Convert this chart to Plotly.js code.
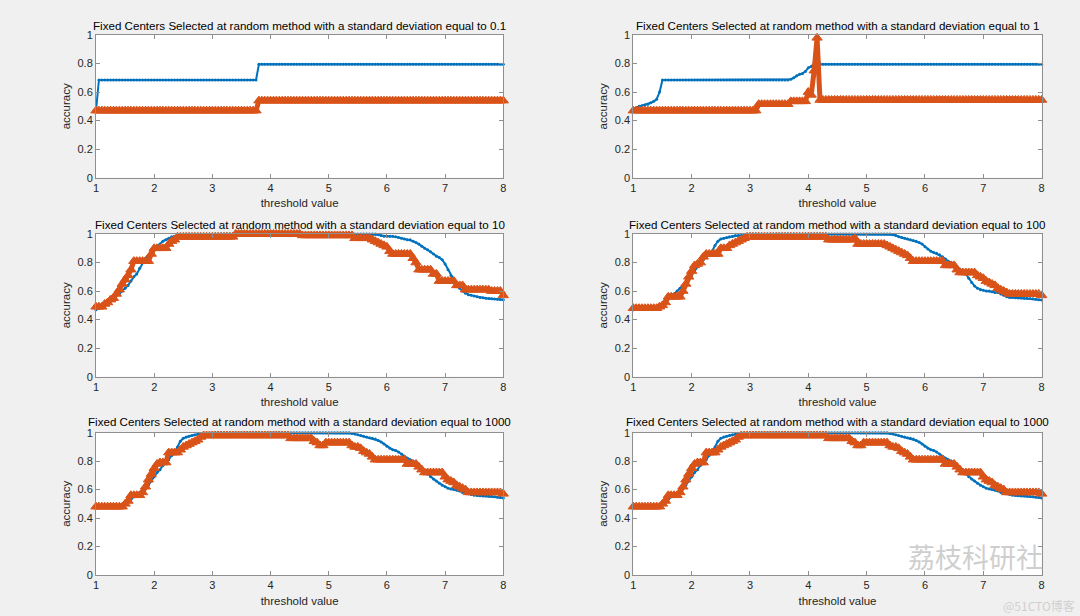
<!DOCTYPE html>
<html>
<head>
<meta charset="utf-8">
<script src="https://cdn.plot.ly/plotly-3.0.1.min.js"></script>
<style>
html,body{margin:0;padding:0;background:#f0f0f0;}
#chart{width:1080px;height:616px;}
</style>
</head>
<body>
<div id="chart"></div>
<script>
// threshold values (x axis), 1.00 .. 8.00
const threshold = [
1.00,1.05,1.10,1.15,1.20,1.25,1.30,1.35,1.40,1.45,1.50,1.55,1.60,1.65,1.70,1.75,1.80,1.85,1.90,1.95,
2.00,2.05,2.10,2.15,2.20,2.25,2.30,2.35,2.40,2.45,2.50,2.55,2.60,2.65,2.70,2.75,2.80,2.85,2.90,2.95,
3.00,3.05,3.10,3.15,3.20,3.25,3.30,3.35,3.40,3.45,3.50,3.55,3.60,3.65,3.70,3.75,3.80,3.85,3.90,3.95,
4.00,4.05,4.10,4.15,4.20,4.25,4.30,4.35,4.40,4.45,4.50,4.55,4.60,4.65,4.70,4.75,4.80,4.85,4.90,4.95,
5.00,5.05,5.10,5.15,5.20,5.25,5.30,5.35,5.40,5.45,5.50,5.55,5.60,5.65,5.70,5.75,5.80,5.85,5.90,5.95,
6.00,6.05,6.10,6.15,6.20,6.25,6.30,6.35,6.40,6.45,6.50,6.55,6.60,6.65,6.70,6.75,6.80,6.85,6.90,6.95,
7.00,7.05,7.10,7.15,7.20,7.25,7.30,7.35,7.40,7.45,7.50,7.55,7.60,7.65,7.70,7.75,7.80,7.85,7.90,7.95,
8.00];

const subplotTitles = [
 "Fixed Centers Selected at random method with a standard deviation equal to 0.1",
 "Fixed Centers Selected at random method with a standard deviation equal to 1",
 "Fixed Centers Selected at random method with a standard deviation equal to 10",
 "Fixed Centers Selected at random method with a standard deviation equal to 100",
 "Fixed Centers Selected at random method with a standard deviation equal to 1000",
 "Fixed Centers Selected at random method with a standard deviation equal to 1000"
];
const xTitle = "threshold value";
const yTitle = "accuracy";
const xTicks = [1,2,3,4,5,6,7,8];
const yTicks = [0,0.2,0.4,0.6,0.8,1];

// std = 0.1
const p1Blue = [
0.47,0.685,0.685,0.685,0.685,0.685,0.685,0.685,0.685,0.685,0.685,0.685,0.685,0.685,0.685,0.685,0.685,0.685,0.685,0.685,
0.685,0.685,0.685,0.685,0.685,0.685,0.685,0.685,0.685,0.685,0.685,0.685,0.685,0.685,0.685,0.685,0.685,0.685,0.685,0.685,
0.685,0.685,0.685,0.685,0.685,0.685,0.685,0.685,0.685,0.685,0.685,0.685,0.685,0.685,0.685,0.685,0.795,0.795,0.795,0.795,
0.795,0.795,0.795,0.795,0.795,0.795,0.795,0.795,0.795,0.795,0.795,0.795,0.795,0.795,0.795,0.795,0.795,0.795,0.795,0.795,
0.795,0.795,0.795,0.795,0.795,0.795,0.795,0.795,0.795,0.795,0.795,0.795,0.795,0.795,0.795,0.795,0.795,0.795,0.795,0.795,
0.795,0.795,0.795,0.795,0.795,0.795,0.795,0.795,0.795,0.795,0.795,0.795,0.795,0.795,0.795,0.795,0.795,0.795,0.795,0.795,
0.795,0.795,0.795,0.795,0.795,0.795,0.795,0.795,0.795,0.795,0.795,0.795,0.795,0.795,0.795,0.795,0.795,0.795,0.795,0.795,
0.795];
const p1Orange = [
0.47,0.47,0.47,0.47,0.47,0.47,0.47,0.47,0.47,0.47,0.47,0.47,0.47,0.47,0.47,0.47,0.47,0.47,0.47,0.47,
0.47,0.47,0.47,0.47,0.47,0.47,0.47,0.47,0.47,0.47,0.47,0.47,0.47,0.47,0.47,0.47,0.47,0.47,0.47,0.47,
0.47,0.47,0.47,0.47,0.47,0.47,0.47,0.47,0.47,0.47,0.47,0.47,0.47,0.47,0.47,0.47,0.54,0.54,0.54,0.54,
0.54,0.54,0.54,0.54,0.54,0.54,0.54,0.54,0.54,0.54,0.54,0.54,0.54,0.54,0.54,0.54,0.54,0.54,0.54,0.54,
0.54,0.54,0.54,0.54,0.54,0.54,0.54,0.54,0.54,0.54,0.54,0.54,0.54,0.54,0.54,0.54,0.54,0.54,0.54,0.54,
0.54,0.54,0.54,0.54,0.54,0.54,0.54,0.54,0.54,0.54,0.54,0.54,0.54,0.54,0.54,0.54,0.54,0.54,0.54,0.54,
0.54,0.54,0.54,0.54,0.54,0.54,0.54,0.54,0.54,0.54,0.54,0.54,0.54,0.54,0.54,0.54,0.54,0.54,0.54,0.54,
0.54];

// std = 1
const p2Blue = [
0.47,0.49,0.50,0.505,0.51,0.515,0.525,0.535,0.55,0.60,0.685,0.685,0.685,0.685,0.685,0.685,0.685,0.685,0.685,0.685,
0.685,0.685,0.685,0.685,0.685,0.685,0.685,0.685,0.685,0.685,0.685,0.685,0.685,0.685,0.685,0.685,0.685,0.685,0.685,0.685,
0.685,0.685,0.685,0.685,0.685,0.685,0.685,0.685,0.685,0.685,0.685,0.685,0.685,0.685,0.69,0.70,0.715,0.725,0.73,0.745,
0.77,0.78,0.80,0.90,0.795,0.795,0.795,0.795,0.795,0.795,0.795,0.795,0.795,0.795,0.795,0.795,0.795,0.795,0.795,0.795,
0.795,0.795,0.795,0.795,0.795,0.795,0.795,0.795,0.795,0.795,0.795,0.795,0.795,0.795,0.795,0.795,0.795,0.795,0.795,0.795,
0.795,0.795,0.795,0.795,0.795,0.795,0.795,0.795,0.795,0.795,0.795,0.795,0.795,0.795,0.795,0.795,0.795,0.795,0.795,0.795,
0.795,0.795,0.795,0.795,0.795,0.795,0.795,0.795,0.795,0.795,0.795,0.795,0.795,0.795,0.795,0.795,0.795,0.795,0.795,0.795,
0.795];
const p2Orange = [
0.47,0.47,0.47,0.47,0.47,0.47,0.47,0.47,0.47,0.47,0.47,0.47,0.47,0.47,0.47,0.47,0.47,0.47,0.47,0.47,
0.47,0.47,0.47,0.47,0.47,0.47,0.47,0.47,0.47,0.47,0.47,0.47,0.47,0.47,0.47,0.47,0.47,0.47,0.47,0.47,
0.47,0.47,0.47,0.515,0.515,0.515,0.515,0.515,0.515,0.515,0.515,0.515,0.515,0.515,0.535,0.535,0.535,0.535,0.535,0.535,
0.60,0.58,0.75,0.98,0.545,0.545,0.545,0.545,0.545,0.545,0.545,0.545,0.545,0.545,0.545,0.545,0.545,0.545,0.545,0.545,
0.545,0.545,0.545,0.545,0.545,0.545,0.545,0.545,0.545,0.545,0.545,0.545,0.545,0.545,0.545,0.545,0.545,0.545,0.545,0.545,
0.545,0.545,0.545,0.545,0.545,0.545,0.545,0.545,0.545,0.545,0.545,0.545,0.545,0.545,0.545,0.545,0.545,0.545,0.545,0.545,
0.545,0.545,0.545,0.545,0.545,0.545,0.545,0.545,0.545,0.545,0.545,0.545,0.545,0.545,0.545,0.545,0.545,0.545,0.545,0.545,
0.545];

// std = 10
const p3Blue = [
0.47,0.48,0.49,0.50,0.51,0.53,0.55,0.57,0.58,0.60,0.62,0.64,0.67,0.70,0.72,0.76,0.80,0.83,0.85,0.87,
0.89,0.91,0.93,0.95,0.96,0.97,0.98,0.985,0.99,0.99,0.99,0.99,0.99,0.99,0.99,0.99,0.99,0.99,0.99,0.99,
0.995,1,1,1,1,1,1,1,1,1,1,1,1,1,1,1,1,1,1,1,
1,1,1,1,1,1,1,1,1,1,1,1,1,1,1,1,1,1,1,1,
1,1,1,1,1,1,1,1,1,1,1,1,1,1,1,1,1,0.995,0.99,0.985,
0.985,0.985,0.985,0.98,0.975,0.97,0.965,0.96,0.96,0.95,0.94,0.93,0.915,0.90,0.89,0.875,0.86,0.845,0.835,0.82,
0.79,0.75,0.71,0.68,0.65,0.62,0.60,0.585,0.575,0.57,0.565,0.56,0.555,0.553,0.55,0.548,0.546,0.545,0.543,0.541,
0.54];
const p3Orange = [
0.49,0.49,0.49,0.51,0.52,0.54,0.55,0.58,0.61,0.65,0.68,0.71,0.75,0.81,0.81,0.81,0.81,0.81,0.81,0.86,
0.90,0.90,0.90,0.90,0.90,0.93,0.95,0.96,0.98,0.98,0.98,0.98,0.98,0.98,0.98,0.98,0.98,0.98,0.98,0.98,
0.98,0.98,0.98,0.98,0.98,0.98,0.98,0.98,1,1,1,1,1,1,1,1,1,1,1,1,
1,1,1,1,1,1,1,1,1,1,1,0.99,0.99,0.99,0.99,0.99,0.99,0.99,0.99,0.99,
0.99,0.99,0.99,0.99,0.99,0.99,0.99,0.99,0.99,0.97,0.97,0.97,0.97,0.97,0.97,0.96,0.95,0.94,0.93,0.92,
0.91,0.88,0.86,0.86,0.86,0.86,0.86,0.86,0.86,0.83,0.80,0.75,0.75,0.75,0.75,0.75,0.72,0.72,0.67,0.67,
0.67,0.67,0.67,0.67,0.64,0.64,0.64,0.61,0.61,0.61,0.61,0.61,0.61,0.61,0.61,0.61,0.60,0.60,0.60,0.60,
0.57];

// std = 100
const p4Blue = [
0.47,0.48,0.48,0.48,0.48,0.48,0.48,0.48,0.49,0.50,0.51,0.53,0.55,0.57,0.58,0.60,0.62,0.64,0.66,0.69,
0.71,0.74,0.77,0.80,0.82,0.84,0.86,0.88,0.92,0.95,0.965,0.97,0.975,0.98,0.985,0.99,0.99,0.99,0.99,0.995,
1,1,1,1,1,1,1,1,1,1,1,1,1,1,1,1,1,1,1,1,
1,1,1,1,1,1,1,1,1,1,1,1,1,1,1,1,1,1,1,1,
1,1,1,1,1,1,1,1,1,0.995,0.99,0.98,0.975,0.97,0.965,0.96,0.955,0.95,0.94,0.93,
0.91,0.895,0.88,0.87,0.865,0.855,0.84,0.825,0.81,0.80,0.785,0.77,0.755,0.74,0.72,0.69,0.66,0.635,0.62,0.61,
0.605,0.60,0.60,0.595,0.59,0.59,0.58,0.57,0.56,0.555,0.555,0.553,0.552,0.551,0.55,0.549,0.548,0.546,0.543,0.54,
0.537];
const p4Orange = [
0.48,0.48,0.48,0.48,0.48,0.48,0.48,0.48,0.48,0.49,0.50,0.52,0.56,0.56,0.56,0.56,0.56,0.60,0.65,0.70,
0.74,0.78,0.79,0.80,0.84,0.86,0.86,0.86,0.86,0.86,0.90,0.90,0.90,0.92,0.93,0.94,0.95,0.96,0.97,0.98,
0.98,0.98,0.98,0.98,0.98,0.98,0.98,0.98,0.98,0.98,0.98,0.98,0.98,0.98,0.98,0.98,0.98,0.98,0.98,0.98,
0.98,0.98,0.98,0.98,0.98,0.98,0.98,0.96,0.96,0.96,0.96,0.96,0.96,0.96,0.96,0.96,0.97,0.93,0.93,0.93,
0.93,0.93,0.93,0.93,0.93,0.93,0.93,0.92,0.91,0.90,0.89,0.88,0.87,0.86,0.85,0.83,0.81,0.81,0.81,0.81,
0.81,0.81,0.81,0.81,0.81,0.81,0.81,0.78,0.78,0.78,0.78,0.75,0.73,0.73,0.73,0.73,0.73,0.73,0.71,0.70,
0.69,0.67,0.66,0.65,0.64,0.62,0.61,0.60,0.59,0.58,0.58,0.58,0.58,0.58,0.58,0.58,0.58,0.58,0.58,0.58,
0.57];

// std = 1000
const p5Blue = [
0.47,0.48,0.48,0.48,0.48,0.48,0.48,0.48,0.48,0.49,0.50,0.51,0.53,0.55,0.57,0.58,0.60,0.61,0.63,0.66,
0.69,0.72,0.74,0.77,0.79,0.81,0.84,0.86,0.90,0.94,0.96,0.97,0.975,0.98,0.985,0.99,0.99,0.99,0.99,0.99,
1,1,1,1,1,1,1,1,1,1,1,1,1,1,1,1,1,1,1,1,
1,1,1,1,1,1,1,1,1,1,1,1,1,1,1,1,1,1,1,1,
1,1,1,1,1,1,1,1,0.995,0.99,0.985,0.98,0.975,0.97,0.965,0.96,0.955,0.945,0.935,0.92,
0.905,0.89,0.88,0.875,0.865,0.85,0.835,0.82,0.81,0.80,0.79,0.77,0.75,0.73,0.71,0.69,0.675,0.66,0.645,0.63,
0.62,0.61,0.605,0.60,0.595,0.59,0.58,0.575,0.57,0.565,0.56,0.558,0.556,0.555,0.555,0.553,0.551,0.549,0.547,0.544,
0.541];
const p5Orange = [
0.48,0.48,0.48,0.48,0.48,0.48,0.48,0.48,0.48,0.48,0.50,0.52,0.56,0.56,0.56,0.56,0.58,0.62,0.67,0.71,
0.75,0.78,0.79,0.79,0.79,0.86,0.86,0.86,0.86,0.88,0.90,0.91,0.92,0.93,0.94,0.95,0.97,0.98,0.98,0.98,
0.98,0.98,0.98,0.98,0.98,0.98,0.98,0.98,0.98,0.98,0.98,0.98,0.98,0.98,0.98,0.98,0.98,0.98,0.98,0.98,
0.98,0.98,0.98,0.98,0.98,0.98,0.98,0.96,0.96,0.96,0.96,0.96,0.96,0.96,0.96,0.94,0.93,0.91,0.91,0.93,
0.93,0.93,0.93,0.93,0.93,0.93,0.93,0.93,0.91,0.90,0.90,0.89,0.87,0.86,0.85,0.83,0.81,0.81,0.81,0.81,
0.81,0.81,0.81,0.81,0.81,0.81,0.81,0.78,0.78,0.78,0.78,0.76,0.74,0.72,0.72,0.72,0.72,0.72,0.72,0.72,
0.69,0.67,0.66,0.65,0.63,0.62,0.61,0.60,0.58,0.58,0.58,0.58,0.58,0.58,0.58,0.58,0.58,0.58,0.58,0.58,
0.57];

// std = 1000 (second panel, same curves)
const p6Blue = p5Blue;
const p6Orange = p5Orange;

const blueSeries = [p1Blue, p2Blue, p3Blue, p4Blue, p5Blue, p6Blue];
const orangeSeries = [p1Orange, p2Orange, p3Orange, p4Orange, p5Orange, p6Orange];

const BLUE = '#0072BD';
const ORANGE = '#D95319';
const AXC = '#262626';
const FONT = 'Liberation Sans, Arial, sans-serif';

const colDomains = [[0.0889, 0.4660], [0.5864, 0.9645]];
const rowDomains = [[0.7115, 0.9432], [0.3885, 0.6201], [0.0666, 0.2976]];
const titleShift = [2, 2, 4];

const traces = [];
const layout = {
  width: 1080, height: 616,
  paper_bgcolor: '#f0f0f0',
  plot_bgcolor: '#ffffff',
  margin: {l: 0, r: 0, t: 0, b: 0},
  showlegend: false,
  font: {family: FONT, color: AXC, size: 11},
  annotations: []
};

for (let i = 0; i < 6; i++) {
  const r = Math.floor(i / 2), c = i % 2;
  const n = i + 1;
  const xa = 'x' + (n === 1 ? '' : n), ya = 'y' + (n === 1 ? '' : n);
  const xk = 'xaxis' + (n === 1 ? '' : n), yk = 'yaxis' + (n === 1 ? '' : n);
  traces.push({
    x: threshold, y: blueSeries[i], xaxis: xa, yaxis: ya, type: 'scatter', mode: 'lines+markers',
    line: {color: BLUE, width: 2}, marker: {symbol: 'circle', size: 3, color: BLUE, line: {width: 0}},
    cliponaxis: false, hoverinfo: 'skip'
  });
  traces.push({
    x: threshold, y: orangeSeries[i], xaxis: xa, yaxis: ya, type: 'scatter', mode: 'lines+markers',
    line: {color: ORANGE, width: 5}, marker: {symbol: 'triangle-up', size: 9, color: ORANGE, line: {width: 1, color: ORANGE}},
    cliponaxis: false, hoverinfo: 'skip'
  });
  layout[xk] = {
    domain: colDomains[c], anchor: ya, range: [1, 8], tickvals: xTicks,
    ticks: 'inside', ticklen: 4, tickcolor: '#8f8f8f', tickwidth: 1,
    showline: true, linecolor: '#8f8f8f', linewidth: 1, mirror: 'ticks',
    showgrid: false, zeroline: false, fixedrange: true,
    tickfont: {family: FONT, size: 11, color: AXC},
    title: {text: xTitle, font: {family: FONT, size: 11.5, color: AXC}, standoff: 6}
  };
  layout[yk] = {
    domain: rowDomains[r], anchor: xa, range: [0, 1], tickvals: yTicks,
    ticks: 'inside', ticklen: 4, tickcolor: '#8f8f8f', tickwidth: 1,
    showline: true, linecolor: '#8f8f8f', linewidth: 1, mirror: 'ticks',
    showgrid: false, zeroline: false, fixedrange: true,
    tickfont: {family: FONT, size: 11, color: AXC},
    title: {text: yTitle, font: {family: FONT, size: 11.5, color: AXC}, standoff: 4}
  };
  layout.annotations.push({
    text: subplotTitles[i], xref: 'paper', yref: 'paper',
    x: (colDomains[c][0] + colDomains[c][1]) / 2, y: rowDomains[r][1],
    xanchor: 'center', yanchor: 'bottom', yshift: titleShift[r], borderpad: 0, showarrow: false,
    font: {family: FONT, size: 11.6, color: '#000000'}
  });
}

// watermark texts seen on the picture
layout.annotations.push({
  text: '荔枝科研社', xref: 'paper', yref: 'paper', x: 0.9675, y: 0.0615,
  xanchor: 'right', yanchor: 'bottom', showarrow: false,
  font: {family: 'Noto Sans CJK SC', size: 27, color: 'rgba(190,190,190,0.75)'}
});
layout.annotations.push({
  text: '@51CTO博客', xref: 'paper', yref: 'paper', x: 0.997, y: 0.0,
  xanchor: 'right', yanchor: 'bottom', showarrow: false,
  font: {family: 'Noto Sans CJK SC', size: 12, color: 'rgba(205,205,205,0.95)'}
});

Plotly.newPlot('chart', traces, layout, {staticPlot: true, displayModeBar: false});
</script>
</body>
</html>
